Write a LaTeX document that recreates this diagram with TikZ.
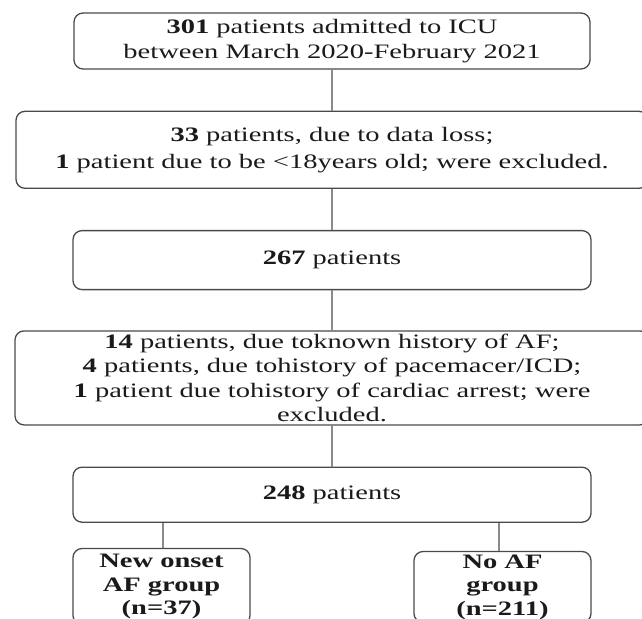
\documentclass[tikz,border=0pt]{standalone}
\usepackage{fontspec}
\setmainfont[FakeStretch=1.39]{Liberation Serif}
\usepackage{xcolor}
\usepackage{tikz}
\usetikzlibrary{positioning}
\definecolor{boxline}{HTML}{4A4A4A}
\definecolor{linkline}{HTML}{8A8A8A}
\definecolor{txt}{HTML}{1A1A1A}

\begin{document}
\begin{tikzpicture}[-,auto,node distance=41pt,
  main node/.style={rectangle,rounded corners=9pt,fill=white,draw=boxline,line width=1.3pt,
    align=center,inner sep=0pt,text=txt,font=\fontsize{20.5}{24.3}\selectfont},
  group node/.style={main node,minimum width=177pt,minimum height=76pt,
    font=\fontsize{20.5}{23.5}\selectfont\bfseries}]

  \useasboundingbox (0,0) rectangle (642pt,-618pt);
  \clip (0,0) rectangle (642pt,-618pt);
  \fill[white] (0,0) rectangle (642pt,-618pt);

  \node[main node,minimum width=516pt,minimum height=56pt] (1) at (332pt,-41pt)
    {\textbf{301} patients admitted to ICU\\between March 2020-February 2021};
  \node[main node,minimum width=632pt,minimum height=77pt] (2) [below=of 1]
    {\textbf{33} patients, due to data loss;\\[3pt]\textbf{1} patient due to be <18years old; were excluded.};
  \node[main node,minimum width=518pt,minimum height=59pt] (3) [below=of 2]
    {\textbf{267} patients};
  \node[main node,minimum width=634pt,minimum height=94pt] (4) [below=40pt of 3]
    {\textbf{14} patients, due toknown history of AF;\\
     \textbf{4} patients, due tohistory of pacemacer/ICD;\\
     \textbf{1} patient due tohistory of cardiac arrest; were\\
     excluded.};
  \node[main node,minimum width=518pt,minimum height=55pt] (5) [below=of 4]
    {\textbf{248} patients};
  \node[group node] (6) [below=25pt of 5.south west,anchor=north west]
    {New onset\\AF group\\(n=37)};
  \node[group node,minimum height=71pt] (7) [below=28pt of 5.south east,anchor=north east]
    {No AF\\group\\(n=211)};

  \path[draw=linkline,line width=1.2pt]
    (1) edge (2)
    (2) edge (3)
    (3) edge (4)
    (4) edge (5)
    (6.north -| 163pt,0) edge (5.south -| 163pt,0)
    (7.north -| 499pt,0) edge (5.south -| 499pt,0);
\end{tikzpicture}
\end{document}
